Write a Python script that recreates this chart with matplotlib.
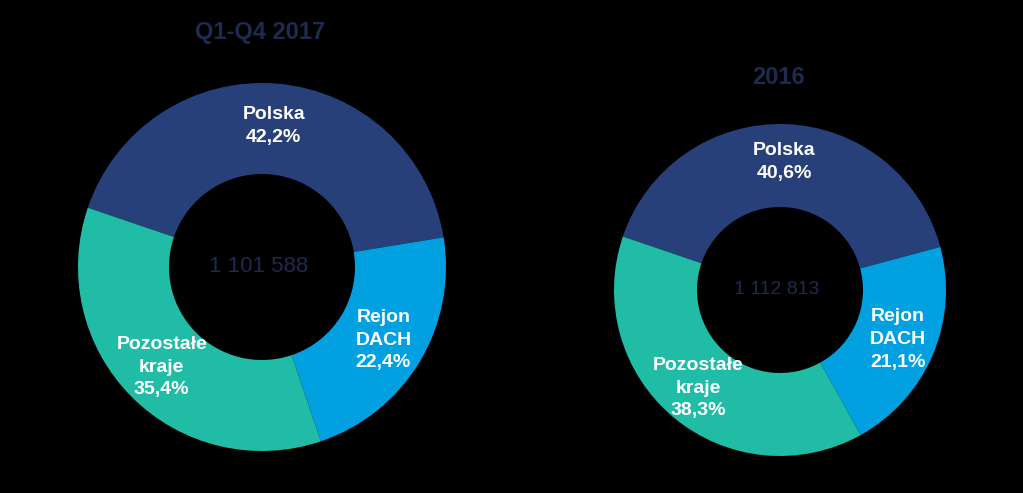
import numpy as np
import matplotlib.pyplot as plt

regions = ['Polska', 'Rejon\nDACH', 'Pozostałe\nkraje']
share_2017 = [42.2, 22.4, 35.4]
share_2016 = [40.6, 21.1, 38.3]
total_2017 = '1 101 588'
total_2016 = '1 112 813'
titles = ['Q1-Q4 2017', '2016']

colors = ['#28407a', '#00a0e1', '#20bca6']
navy = '#1e2b4e'
fonts = ['Liberation Sans Narrow', 'Liberation Sans', 'DejaVu Sans']

W, H = 1023, 493
fig = plt.figure(figsize=(W / 100, H / 100), dpi=100, facecolor='black')
ax = fig.add_axes([0, 0, 1, 1])
ax.set_facecolor('black')


def donut(shares, total, title, cx, cy, r, hole, title_y, num_size):
    labels = [f'{n}\n{v:.1f}%'.replace('.', ',') for n, v in zip(regions, shares)]
    wedges, texts = ax.pie(shares, labels=labels, colors=colors, center=(cx, cy),
                           radius=r, startangle=161.2, counterclock=False,
                           labeldistance=0.77, frame=True,
                           wedgeprops=dict(width=r - hole, linewidth=0))
    for t in texts:
        t.set_ha('center')
        t.set_va('center')
        t.set_color('white')
        t.set_fontsize(14)
        t.set_fontweight('bold')
        t.set_family(fonts)
        t.set_linespacing(1.45)
    ax.text(cx - 3, cy, total, ha='center', va='center', color=navy,
            fontsize=num_size, family=fonts[1:])
    ax.text(cx - 2, title_y, title, ha='center', va='center', color=navy,
            fontsize=17, fontweight='bold', family=fonts[1:])


donut(share_2017, total_2017, titles[0], 262, H - 267, 184, 93, H - 32, 16)
donut(share_2016, total_2016, titles[1], 780, H - 290, 166, 83, H - 77, 14)

ax.set_xlim(0, W)
ax.set_ylim(0, H)
ax.set_aspect('equal')
ax.axis('off')

fig.savefig('out.png', dpi=100, facecolor='black')
